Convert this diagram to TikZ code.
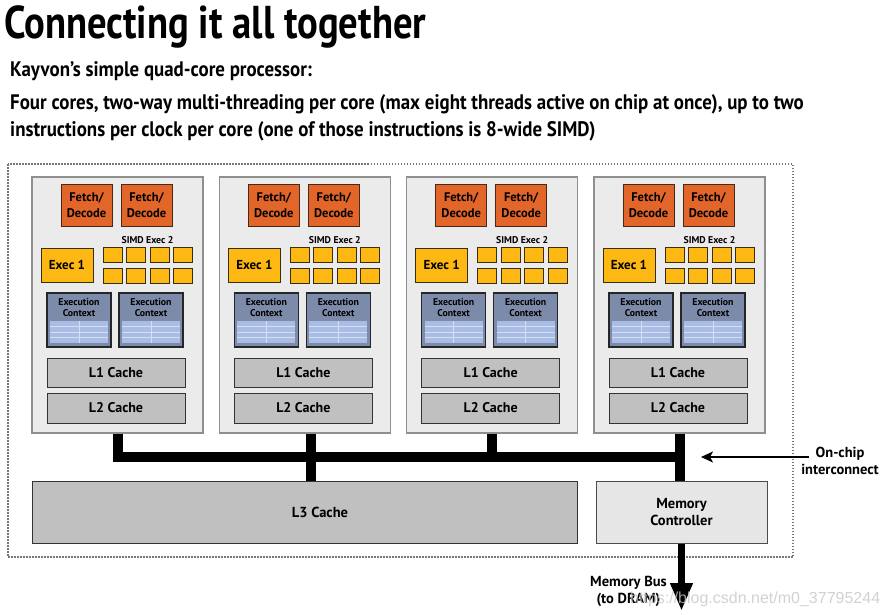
\documentclass[tikz,border=0pt]{standalone}
\usepackage{fontspec}
\setmainfont{PT Sans}
\newfontfamily\titlefont[FakeStretch=0.84]{PT Sans}
\newfontfamily\headfont[FakeStretch=0.9]{PT Sans}
\newfontfamily\markfont{Liberation Sans}
\usetikzlibrary{arrows.meta}
\definecolor{corefill}{HTML}{EBEBEB}
\definecolor{coreline}{HTML}{8F8F8F}
\definecolor{fetchfill}{HTML}{E2652A}
\definecolor{fetchline}{HTML}{4A2816}
\definecolor{execfill}{HTML}{FDB813}
\definecolor{execline}{HTML}{3A2E10}
\definecolor{ctxfill}{HTML}{7D8BAA}
\definecolor{gridfill}{HTML}{A9BCE3}
\definecolor{gridline}{HTML}{D5DFF3}
\definecolor{cachefill}{HTML}{C0C0C0}
\definecolor{mcfill}{HTML}{E6E6E6}
\definecolor{chipline}{HTML}{777777}
\tikzset{
  corebox/.style={draw=coreline, fill=corefill, line width=1.2pt, minimum width=171pt, minimum height=256pt, inner sep=0pt},
  fetchbox/.style={draw=fetchline, fill=fetchfill, line width=1pt, minimum width=51pt, minimum height=42pt, inner sep=0pt, align=center, font=\bfseries\fontsize{12.5}{15.5}\selectfont},
  execbox/.style={draw=execline, fill=execfill, line width=1pt, minimum width=52pt, minimum height=34pt, inner sep=0pt, font=\bfseries\fontsize{13}{15}\selectfont},
  simdsq/.style={draw=execline, fill=execfill, line width=1pt, minimum width=19pt, minimum height=15pt, inner sep=0pt},
  ctxbox/.style={draw=black!85, fill=ctxfill, line width=1.2pt, minimum width=64pt, minimum height=54pt, inner sep=0pt},
  ctxlbl/.style={inner sep=0pt, align=center, font=\bfseries\fontsize{9.8}{11}\selectfont},
  cachebox/.style={draw=black!80, fill=cachefill, line width=1pt, minimum width=138pt, minimum height=29pt, inner sep=0pt, font=\bfseries\fontsize{14}{16}\selectfont},
  lbl/.style={inner sep=0pt, align=center, font=\bfseries\fontsize{14.5}{17}\selectfont},
  headline/.style={anchor=base west, inner sep=0pt, font=\headfont\bfseries\fontsize{21}{21}\selectfont},
  bus/.style={line width=10pt, line cap=butt},
}
\begin{document}
\begin{tikzpicture}[x=1pt,y=-1pt]
\useasboundingbox (0,0) rectangle (885,614);
% headings
\node (title) [anchor=base west, inner sep=0pt, font=\titlefont\bfseries\fontsize{46}{46}\selectfont] at (4,38) {Connecting it all together};
\node (sub) [headline] at (10,76) {Kayvon’s simple quad-core processor:};
\node (desc1) [headline] at (10,109) {Four cores, two-way multi-threading per core (max eight threads active on chip at once), up to two};
\node (desc2) [headline] at (10,136) {instructions per clock per core (one of those instructions is 8-wide SIMD)};
% chip outline
\draw[chipline, line width=1.5pt, dash pattern=on 1.5pt off 1.5pt] (8,164) rectangle (793,557);
% cores
\foreach \i [evaluate=\i as \x using 32+187.33*\i] in {0,...,3} {
  \node (core\i) [corebox] at ({\x+85.5},305) {};
  \node (fa\i) [fetchbox] at ({\x+54.5},205) {Fetch/\\Decode};
  \node (fb\i) [fetchbox] at ({\x+114.5},205) {Fetch/\\Decode};
  \node (ex\i) [execbox] at ({\x+35},265) {Exec 1};
  \node (sl\i) [ctxlbl] at ({\x+115.5},240) {SIMD Exec 2};
  \foreach \c in {0,...,3}
    \foreach \r in {0,1}
      \node (s\i\c\r) [simdsq] at ({\x+80.5+23.5*\c},{255+20.5*\r}) {};
  \foreach \c/\o in {a/47,b/119} {
    \node (c\c\i) [ctxbox] at ({\x+\o},320) {};
    \fill[gridfill] ({\x+\o-29},321) rectangle ({\x+\o+29},343);
    \draw[gridline, line width=0.8pt] ({\x+\o},321) -- ({\x+\o},343);
    \foreach \yy in {326.5,332,337.5}
      \draw[gridline, line width=0.8pt] ({\x+\o-29},\yy) -- ({\x+\o+29},\yy);
    \node (ct\c\i) [ctxlbl] at ({\x+\o},307.5) {Execution\\Context};
  }
  \node (la\i) [cachebox] at ({\x+84},372.5) {L1 Cache};
  \node (lb\i) [cachebox, minimum height=30pt] at ({\x+84},408) {L2 Cache};
}
% shared parts
\node (l3) [cachebox, minimum width=545pt, minimum height=62pt] at (304.5,512) {};
\node (l3t) [lbl] at (320,512) {L3 Cache};
\node (mc) [draw=black!70, fill=mcfill, line width=1pt, minimum width=171pt, minimum height=62pt, lbl] at (681.5,512) {Memory\\Controller};
% interconnect
\coordinate (busy) at (0,457);
\draw[bus] (core0.south) |- (core3.south |- busy);
\draw[bus] (core2.south) -- (core2.south |- busy);
\draw[bus] ([xshift=6.5pt]core1.south) -- ([xshift=6.5pt]core1.south |- l3.north);
\draw[bus] (core3.south) -- (core3.south |- mc.north);
% labels outside the chip
\node (onchip) [lbl] at (840,461) {On-chip\\interconnect};
\coordinate (bustip) at (701,457);
\draw[line width=2pt, -{Stealth[width=11pt,length=12pt,inset=3pt]}] ([shift={(8pt,4pt)}]onchip.west) -- (bustip);
\coordinate (dram) at (681.5,611);
\draw[line width=7pt, -{Triangle[width=21pt,length=28pt]}] (mc.south) -- (dram);
\node (bus) [lbl, anchor=east] at (667,591) {Memory Bus\\(to DRAM)};
% watermark
\node (mark) [anchor=base west, inner sep=0pt, text=gray!45, opacity=0.8, font=\markfont\fontsize{16}{16}\selectfont] at (630,603) {https://blog.csdn.net/m0\_37795244};
\end{tikzpicture}
\end{document}
